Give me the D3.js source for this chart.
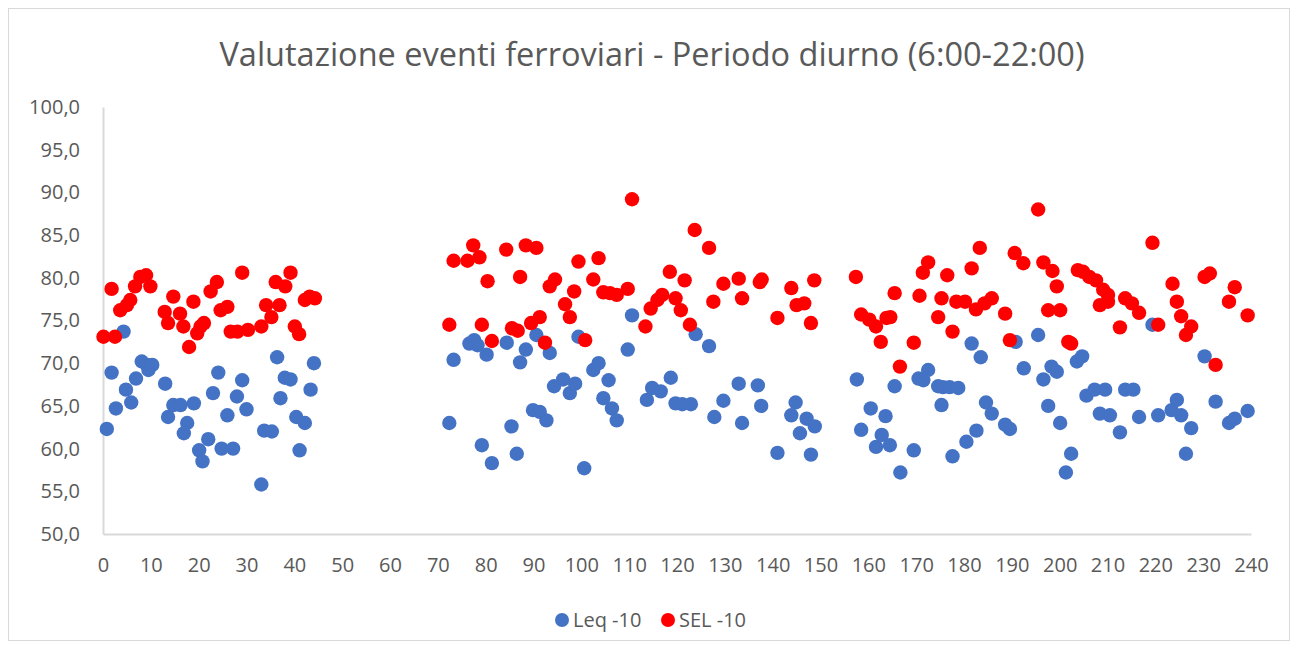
<!DOCTYPE html>
<html>
<head>
<meta charset="utf-8">
<script src="https://cdn.jsdelivr.net/npm/d3@7"></script>
<style>
  body { margin: 0; background: #fff; }
  svg text { font-family: "Open Sans", "Noto Sans", sans-serif; fill: #595959; }
</style>
</head>
<body>
<svg width="1298" height="649"></svg>
<script>
// chart text
var title = "Valutazione eventi ferroviari - Periodo diurno (6:00-22:00)";
var seriesNames = ["Leq -10", "SEL -10"];
var xTicks = d3.range(0, 241, 10);
var yTicks = d3.range(50, 101, 5);

// [evento, dB]
var leq = [
  [0.8,62.3],[1.8,68.9],[2.7,64.7],[4.3,73.7],[4.8,66.9],[5.9,65.4],[6.9,68.2],[8.1,70.2],[9.2,69.8],[9.5,69.2],
  [10.3,69.8],[13.0,67.6],[13.6,63.7],[14.7,65.1],[16.2,65.1],[16.9,61.8],[17.6,63.0],[19.0,65.3],[20.1,59.8],[20.8,58.5],
  [22.0,61.1],[23.0,66.5],[24.1,68.9],[24.8,60.0],[26.0,63.9],[27.2,60.0],[28.0,66.1],[29.1,68.0],[30.0,64.6],[33.1,55.8],
  [33.7,62.1],[35.3,62.0],[36.4,70.7],[37.1,65.9],[38.0,68.3],[39.2,68.1],[40.4,63.7],[41.1,59.8],[42.2,63.0],[43.4,66.9],
  [44.1,70.0],
  [72.4,63.0],[73.3,70.4],[76.6,72.3],[77.6,72.7],[78.3,72.1],[79.2,60.4],[80.2,71.0],[81.3,58.3],[84.4,72.4],[85.4,62.6],
  [86.5,59.4],[87.2,70.1],[88.4,71.6],[89.9,64.5],[90.6,73.3],[91.3,64.3],[92.7,63.3],[93.4,71.2],[94.3,67.3],[96.2,68.1],
  [97.6,66.5],[98.7,67.6],[99.4,73.1],[100.6,57.7],[102.5,69.2],[103.6,70.0],[104.6,65.9],[105.7,68.0],[106.4,64.7],[107.4,63.3],
  [109.7,71.6],[110.6,75.6],[113.7,65.7],[114.8,67.1],[116.6,66.7],[118.7,68.3],[119.7,65.3],[121.1,65.2],[122.9,65.2],[123.9,73.4],
  [126.7,72.0],[127.8,63.7],[129.7,65.6],[132.9,67.6],[133.6,63.0],[136.9,67.4],[137.6,65.0],[141.0,59.5],[143.9,63.9],[144.8,65.4],
  [145.7,61.8],[147.1,63.5],[148.0,59.3],[148.8,62.6],
  [157.6,68.1],[158.5,62.2],[160.5,64.7],[161.6,60.2],[162.8,61.6],[163.6,63.8],[164.5,60.4],[165.5,67.3],[166.7,57.2],[169.5,59.8],
  [170.5,68.2],[171.5,68.0],[172.5,69.2],[174.6,67.3],[175.3,65.1],[175.6,67.2],[177.0,67.2],[177.6,59.1],[178.8,67.1],[180.5,60.8],
  [181.6,72.3],[182.6,62.1],[183.5,70.7],[184.6,65.4],[185.8,64.1],[188.6,62.8],[189.6,62.3],[190.8,72.5],[192.5,69.4],[195.5,73.3],
  [196.6,68.1],[197.6,65.0],[198.3,69.6],[199.4,69.0],[200.1,63.0],[201.3,57.2],[202.4,59.4],[203.6,70.2],[204.7,70.8],[205.6,66.2],
  [207.3,66.9],[208.4,64.1],[209.5,66.9],[210.5,63.9],[212.6,61.9],[213.7,66.9],[215.4,66.9],[216.6,63.7],[219.4,74.5],[220.6,63.9],
  [223.4,64.5],[224.5,65.7],[225.4,63.9],[226.4,59.4],[227.5,62.4],[230.3,70.8],[232.6,65.5],[235.4,63.0],[236.6,63.5],[239.3,64.4]
];

var sel = [
  [0.1,73.1],[1.8,78.7],[2.5,73.1],[3.6,76.2],[5.0,76.8],[5.7,77.4],[6.7,79.0],[7.8,80.1],[9.0,80.3],[9.9,79.0],
  [12.9,76.0],[13.6,74.7],[14.7,77.8],[16.1,75.8],[16.8,74.3],[18.0,71.9],[18.9,77.2],[19.7,73.5],[20.4,74.3],[21.1,74.7],
  [22.5,78.4],[23.8,79.5],[24.6,76.2],[26.0,76.6],[26.7,73.7],[28.1,73.7],[29.1,80.6],[30.3,73.9],[33.1,74.3],[34.1,76.8],
  [35.2,75.4],[36.1,79.5],[36.9,76.8],[38.1,79.0],[39.2,80.6],[40.1,74.3],[41.0,73.4],[42.2,77.4],[43.2,77.8],[44.3,77.6],
  [72.4,74.5],[73.3,82.0],[76.2,82.0],[77.4,83.8],[78.7,82.4],[79.2,74.5],[80.4,79.6],[81.3,72.6],[84.3,83.3],[85.5,74.1],
  [86.7,73.8],[87.2,80.1],[88.4,83.8],[89.5,74.7],[90.6,83.5],[91.3,75.4],[92.4,72.4],[93.4,79.0],[94.5,79.8],[96.6,76.9],
  [97.6,75.4],[98.5,78.4],[99.4,81.9],[100.8,72.7],[102.5,79.8],[103.6,82.3],[104.6,78.3],[106.0,78.2],[107.4,78.0],[109.7,78.7],
  [110.6,89.2],[113.4,74.3],[114.5,76.4],[115.9,77.4],[116.9,78.0],[118.5,80.7],[119.7,77.6],[120.8,76.2],[121.6,79.7],[122.7,74.5],
  [123.7,85.6],[126.7,83.5],[127.6,77.2],[129.7,79.3],[132.9,79.9],[133.6,77.6],[137.3,79.5],[137.7,79.8],[141.0,75.3],[143.9,78.8],
  [145.0,76.8],[146.6,77.0],[148.0,74.7],[148.7,79.7],
  [157.4,80.1],[158.5,75.7],[160.2,75.1],[161.6,74.3],[162.6,72.5],[163.8,75.3],[164.6,75.4],[165.5,78.2],[166.6,69.6],[169.5,72.4],
  [170.7,77.9],[171.4,80.6],[172.5,81.8],[174.6,75.4],[175.3,77.6],[176.5,80.3],[177.6,73.7],[178.4,77.2],[180.2,77.2],[181.6,81.1],
  [182.5,76.3],[183.3,83.5],[184.3,77.0],[185.8,77.6],[188.6,75.8],[189.6,72.7],[190.6,82.9],[192.4,81.7],[195.5,88.0],[196.6,81.8],
  [197.6,76.2],[198.5,80.8],[199.4,79.0],[200.1,76.2],[201.8,72.5],[202.4,72.3],[203.8,80.9],[204.9,80.7],[206.2,80.1],[207.6,79.7],
  [208.4,76.8],[209.1,78.6],[210.1,78.0],[210.1,77.2],[212.6,74.2],[213.7,77.6],[215.1,77.0],[216.6,75.9],[219.4,84.1],[220.6,74.5],
  [223.6,79.3],[224.5,77.2],[225.4,75.5],[226.4,73.3],[227.5,74.3],[230.3,80.1],[231.4,80.5],[232.6,69.8],[235.4,77.2],[236.6,78.9],
  [239.3,75.6]
];

var colors = ["#4472C4", "#FF0000"];

var svg = d3.select("svg");

// outer frame
svg.append("rect")
    .attr("x", 8.5).attr("y", 8.5)
    .attr("width", 1281).attr("height", 632)
    .attr("fill", "#fff")
    .attr("stroke", "#d9d9d9");

var x = d3.scaleLinear().domain([0, 240]).range([103, 1251]);
var y = d3.scaleLinear().domain([50, 100]).range([534, 107]);

svg.append("text")
    .attr("x", 652).attr("y", 66)
    .attr("text-anchor", "middle")
    .attr("font-size", 32.5)
    .text(title);

var fmt = function(d){ return d3.format(".1f")(d).replace(".", ","); };

var yAxis = svg.append("g")
    .attr("transform", "translate(103,0)")
    .call(d3.axisLeft(y).tickValues(yTicks).tickFormat(fmt).tickSize(0).tickPadding(23));
var xAxis = svg.append("g")
    .attr("transform", "translate(0,534)")
    .call(d3.axisBottom(x).tickValues(xTicks).tickSize(0).tickPadding(24));

[yAxis, xAxis].forEach(function(a){
    a.select(".domain").attr("stroke", "#d9d9d9").attr("stroke-width", 2);
    a.selectAll("text")
        .attr("font-family", null)
        .attr("font-size", 20)
        .attr("fill", "#595959");
});

function drawSeries(data, color){
    svg.append("g").selectAll("circle")
        .data(data)
        .enter().append("circle")
        .attr("cx", function(d){ return x(d[0]); })
        .attr("cy", function(d){ return y(d[1]); })
        .attr("r", 7.2)
        .attr("fill", color);
}
drawSeries(leq, colors[0]);
drawSeries(sel, colors[1]);

// legend
var legend = svg.append("g").attr("transform", "translate(562,620)");
var lx = [0, 106];
seriesNames.forEach(function(name, i){
    var g = legend.append("g").attr("transform", "translate(" + lx[i] + ",0)");
    g.append("circle").attr("r", 7).attr("fill", colors[i]);
    g.append("text").attr("x", 11).attr("y", 7).attr("font-size", 20).text(name);
});
</script>
</body>
</html>
